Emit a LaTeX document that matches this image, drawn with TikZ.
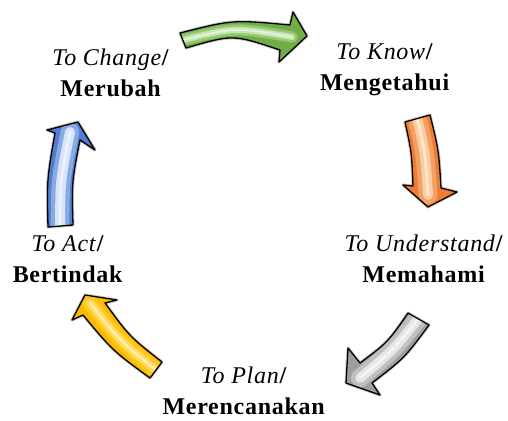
\documentclass[tikz,border=0pt]{standalone}
\usepackage{fontspec}
\setmainfont{Liberation Serif}[LetterSpace=3]
\definecolor{gB}{RGB}{112,173,71}\definecolor{gM}{RGB}{150,200,115}\definecolor{gL}{RGB}{200,230,178}
\definecolor{oB}{RGB}{237,125,49}\definecolor{oM}{RGB}{244,160,100}\definecolor{oL}{RGB}{250,205,160}
\definecolor{sB}{RGB}{158,158,158}\definecolor{sM}{RGB}{192,192,192}\definecolor{sL}{RGB}{230,230,230}
\definecolor{yB}{RGB}{250,185,0}\definecolor{yM}{RGB}{255,200,30}\definecolor{yL}{RGB}{255,220,95}
\definecolor{bB}{RGB}{80,125,205}\definecolor{bM}{RGB}{135,170,228}\definecolor{bL}{RGB}{215,228,250}
\newcommand{\fancyarrow}[6]{%
  \draw[black!40, line width=3.2pt, line join=round, opacity=0.5] #1;
  \fill[#3] #1;
  \begin{scope}
    \clip #1;
    \draw[#4, line width=0.75*#6, line cap=round] #2;
    \draw[#5, line width=0.4*#6, line cap=round] #2;
    \draw[white!50!#5, line width=0.12*#6, line cap=round] #2;
  \end{scope}
  \draw[black, line width=1.3pt, line join=round] #1;
}
\tikzset{lab/.style={align=center, inner sep=0pt, font=\fontsize{24}{31}\selectfont}}
\begin{document}
\begin{tikzpicture}[x=1pt,y=-1pt]
\useasboundingbox (0,0) rectangle (508,420);
% green
\fancyarrow{(180,33) .. controls (232.3,19.7) .. (290,25) -- (293,12) -- (307,36) -- (279,62) -- (280,50) .. controls (233,34.3) .. (186,48) -- cycle}
 {(183,40) .. controls (234.2,27.2) .. (292,37)}{gB}{gM}{gL}{15pt}
% orange
\fancyarrow{(405,122) -- (430,115) .. controls (438.8,150.8) .. (441,188) -- (457,192) -- (428,207) -- (403,185) -- (413,186) .. controls (411.7,152.7) .. (405,122) -- cycle}
 {(417,118) .. controls (425.2,151.8) .. (428,195)}{oB}{oM}{oL}{25pt}
% gray
\fancyarrow{(408,313) -- (429,325) .. controls (404.5,358) .. (372,383) -- (380,395) -- (346,383) -- (348,348) -- (360,363) .. controls (388,342) .. (408,313) -- cycle}
 {(418,319) .. controls (393,350.5) .. (360,378)}{sB}{sM}{sL}{24pt}
% yellow
\fancyarrow{(162,362) .. controls (129.5,336.5) .. (105,303) -- (117,300) -- (85,295) -- (72,320) -- (83,315) .. controls (112.5,350.5) .. (150,378) -- cycle}
 {(156,370) .. controls (119,340) .. (90,303)}{yB}{yM}{yL}{20pt}
% blue
\fancyarrow{(48,227) .. controls (46.8,180) .. (55,133) -- (47,130) -- (78,122) -- (95,150) -- (80,140) .. controls (71.8,181.8) .. (73,225) -- cycle}
 {(60,226) .. controls (60.3,180.3) .. (70,132)}{bB}{bM}{bL}{25pt}
% labels
\node[lab] (change) at (111,73) {\textit{To Change}\textbf{/}\\\textbf{Merubah}};
\node[lab] (know) at (385,70) {\textit{To Know}\textbf{/}\\\textbf{Mengetahui}};
\node[lab] (understand) at (424,259) {\textit{To Understand}\textbf{/}\\\textbf{Memahami}};
\node[lab] (act) at (68,259) {\textit{To Act}\textbf{/}\\\textbf{Bertindak}};
\node[lab] (plan) at (244,391) {\textit{To Plan}\textbf{/}\\\textbf{Merencanakan}};
\end{tikzpicture}
\end{document}
